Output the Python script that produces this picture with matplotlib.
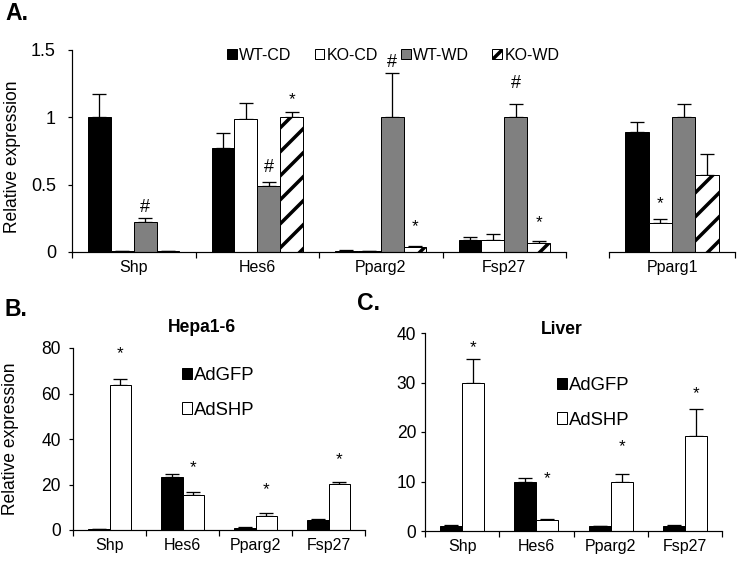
import matplotlib
matplotlib.use("Agg")
import matplotlib.pyplot as plt
import numpy as np

# panel A: WT/KO mice on chow (CD) or western diet (WD)
genes_a = ["Shp", "Hes6", "Pparg2", "Fsp27"]
groups_a = ["WT-CD", "KO-CD", "WT-WD", "KO-WD"]
wt_cd = [1.0, 0.77, 0.01, 0.09]
ko_cd = [0.005, 0.99, 0.005, 0.09]
wt_wd = [0.22, 0.49, 1.0, 1.0]
ko_wd = [0.005, 1.0, 0.035, 0.07]
wt_cd_err = [0.17, 0.11, 0.002, 0.02]
ko_cd_err = [0.0, 0.12, 0.0, 0.04]
wt_wd_err = [0.03, 0.03, 0.33, 0.10]
ko_wd_err = [0.0, 0.04, 0.012, 0.015]
# marks above bars: (gene index, group index, symbol, height)
marks_a = [(0, 2, "#", 0.334), (1, 2, "#", 0.63), (1, 3, "*", 1.13),
           (2, 2, "#", 1.41), (2, 3, "*", 0.19), (3, 2, "#", 1.25),
           (3, 3, "*", 0.215)]

pparg1 = [0.89, 0.215, 1.0, 0.57]
pparg1_err = [0.075, 0.03, 0.10, 0.155]
marks_pparg1 = [(1, "*", 0.36)]

# panels B and C: adenovirus GFP vs SHP
genes_bc = ["Shp", "Hes6", "Pparg2", "Fsp27"]
hepa_gfp = [0.5, 23.4, 1.0, 4.5]
hepa_gfp_err = [0.1, 1.0, 0.2, 0.3]
hepa_shp = [63.7, 15.6, 6.1, 20.4]
hepa_shp_err = [2.8, 1.0, 1.2, 0.6]
hepa_stars = [77.4, 27.3, 17.6, 30.8]

liver_gfp = [1.0, 9.9, 1.0, 1.1]
liver_gfp_err = [0.2, 0.9, 0.1, 0.2]
liver_shp = [29.9, 2.3, 10.0, 19.1]
liver_shp_err = [4.8, 0.1, 1.6, 5.6]
liver_stars = [37.0, 10.5, 17.0, 27.7]

W, H = 740, 564
plt.rcParams["font.family"] = ["Liberation Sans", "DejaVu Sans"]
plt.rcParams["hatch.linewidth"] = 3.5
plt.rcParams["axes.linewidth"] = 1.2

fig = plt.figure(figsize=(W / 72, H / 72), dpi=72)


def add_ax(left, right, top, bottom):
    return fig.add_axes([left / W, 1 - bottom / H, (right - left) / W, (bottom - top) / H])


def style_ax(ax, n, ylim, yticks, ylabels, left_spine=True, ypad=6, yfont=17):
    ax.set_xlim(0, n)
    ax.set_ylim(*ylim)
    for s in ["top", "right"]:
        ax.spines[s].set_visible(False)
    if left_spine:
        ax.set_yticks(yticks)
        ax.set_yticklabels(ylabels, fontsize=yfont)
        ax.tick_params(axis="y", direction="out", length=4, width=1.2, pad=ypad)
    else:
        ax.spines["left"].set_visible(False)
        ax.set_yticks([])
    ax.set_xticks(np.arange(n + 1), minor=True)
    ax.tick_params(axis="x", which="minor", direction="out", length=6, width=1.2)
    ax.tick_params(axis="x", which="major", length=0, pad=8, labelsize=16)


bar_kw = dict(edgecolor="black", linewidth=1.0, zorder=2)
err_kw = dict(ecolor="black", elinewidth=1.3, capsize=7, capthick=1.3)
fills = [dict(color="black"), dict(color="white"), dict(color="#808080"),
         dict(color="white", hatch="/")]

# ---------- panel A ----------
axA = add_ax(72, 566, 50, 252)
wa = 0.185
xa = np.arange(len(genes_a)) + 0.5
vals_a = [wt_cd, ko_cd, wt_wd, ko_wd]
errs_a = [wt_cd_err, ko_cd_err, wt_wd_err, ko_wd_err]
for i in range(4):
    pos = xa + (i - 1.5) * wa
    axA.bar(pos, vals_a[i], wa, facecolor=fills[i]["color"], hatch=fills[i].get("hatch"),
            label=groups_a[i], **bar_kw)
    axA.errorbar(pos, vals_a[i], yerr=[np.zeros(4), errs_a[i]], fmt="none", zorder=1, **err_kw)
for gi, k, sym, yv in marks_a:
    axA.text(xa[gi] + (k - 1.5) * wa, yv, sym, ha="center", va="center",
             fontsize=18 if sym == "#" else 17)
style_ax(axA, 4, (0, 1.5), [0, 0.5, 1, 1.5], ["0", "0.5", "1", "1.5"], ypad=12, yfont=18)
axA.set_xticks(xa)
axA.set_xticklabels(genes_a)
axA.set_ylabel("Relative expression", fontsize=17.5)
axA.yaxis.set_label_coords(-0.103, 0.47)
axA.legend(ncol=4, loc="upper left", bbox_to_anchor=(227 / W, 1 - 48 / H),
           bbox_transform=fig.transFigure, frameon=False, fontsize=16,
           handlelength=0.6, handleheight=0.6, handletextpad=0.15,
           columnspacing=1.45, borderpad=0, borderaxespad=0)

axP = add_ax(609, 735, 50, 252)
xp = np.array([0.5])
for i in range(4):
    pos = xp + (i - 1.5) * 0.185
    axP.bar(pos, [pparg1[i]], 0.185, facecolor=fills[i]["color"], hatch=fills[i].get("hatch"),
            **bar_kw)
    axP.errorbar(pos, [pparg1[i]], yerr=[[0], [pparg1_err[i]]], fmt="none", zorder=1, **err_kw)
for k, sym, yv in marks_pparg1:
    axP.text(0.5 + (k - 1.5) * 0.185, yv, sym, ha="center", va="center", fontsize=17)
style_ax(axP, 1, (0, 1.5), [], [], left_spine=False)
axP.set_xticks(xp)
axP.set_xticklabels(["Pparg1"])


# ---------- panels B and C ----------
def two_bar_panel(ax, gfp, gfp_err, shp, shp_err, stars, ylim, yticks, leg_xy, ypad):
    wb = 0.295
    xb = np.arange(len(genes_bc)) + 0.5
    ax.bar(xb - wb / 2, gfp, wb, facecolor="black", label="AdGFP", **bar_kw)
    ax.bar(xb + wb / 2, shp, wb, facecolor="white", label="AdSHP", **bar_kw)
    ax.errorbar(xb - wb / 2, gfp, yerr=[np.zeros(4), gfp_err], fmt="none", zorder=1, **err_kw)
    ax.errorbar(xb + wb / 2, shp, yerr=[np.zeros(4), shp_err], fmt="none", zorder=1, **err_kw)
    for j, yv in enumerate(stars):
        ax.text(xb[j] + wb / 2, yv, "*", ha="center", va="center", fontsize=17)
    style_ax(ax, 4, ylim, yticks, [str(t) for t in yticks], ypad=ypad, yfont=17.5)
    ax.set_xticks(xb)
    ax.set_xticklabels(genes_bc)
    ax.legend(loc="upper left", bbox_to_anchor=leg_xy, bbox_transform=fig.transFigure,
              frameon=False, fontsize=18.5, handlelength=0.55, handleheight=0.55,
              handletextpad=0.1, labelspacing=0.95, borderpad=0, borderaxespad=0)


axB = add_ax(73, 365, 348, 530)
two_bar_panel(axB, hepa_gfp, hepa_gfp_err, hepa_shp, hepa_shp_err, hepa_stars,
              (0, 80), [0, 20, 40, 60, 80], (182 / W, 1 - 367 / H), ypad=8)
axB.set_ylabel("Relative expression", fontsize=17.5)
axB.yaxis.set_label_coords(-0.185, 0.5)

axC = add_ax(425, 722, 333, 531)
two_bar_panel(axC, liver_gfp, liver_gfp_err, liver_shp, liver_shp_err, liver_stars,
              (0, 40), [0, 10, 20, 30, 40], (557 / W, 1 - 377 / H), ypad=5)

# panel titles and letters
fig.text(202 / W, 1 - 327 / H, "Hepa1-6", fontsize=17.5, fontweight="bold",
         ha="center", va="center")
fig.text(562 / W, 1 - 330 / H, "Liver", fontsize=17.5, fontweight="bold",
         ha="center", va="center")
fig.text(5 / W, 1 - 14 / H, "A.", fontsize=23, fontweight="bold", va="center")
fig.text(5 / W, 1 - 310 / H, "B.", fontsize=23, fontweight="bold", va="center")
fig.text(357 / W, 1 - 304 / H, "C.", fontsize=23, fontweight="bold", va="center")

fig.savefig("out.png", dpi=72)
